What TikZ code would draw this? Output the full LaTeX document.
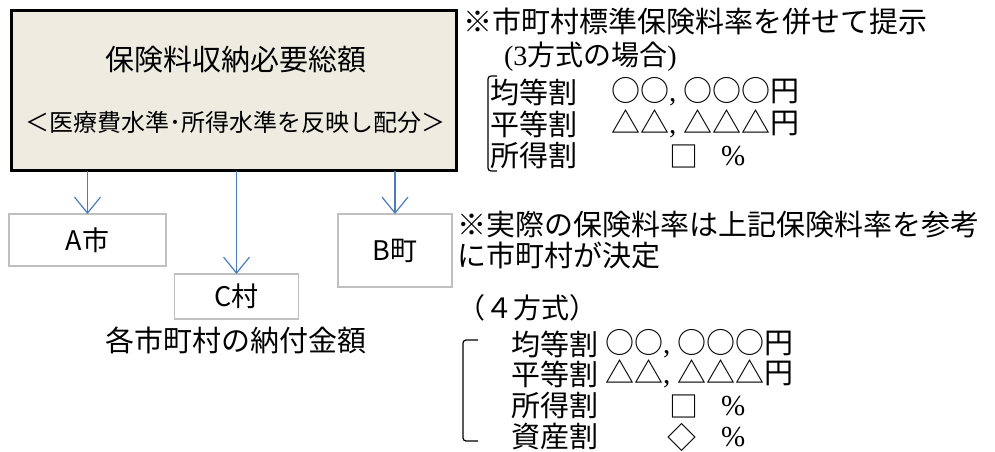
\documentclass[tikz,border=0pt]{standalone}
\usepackage{fontspec}
\usetikzlibrary{arrows.meta}
\newfontfamily\jp{Noto Sans CJK JP}
\newfontfamily\ser{Liberation Serif}
\definecolor{boxfill}{HTML}{EEECE1}
\definecolor{arrowblue}{HTML}{4A7EBB}
\definecolor{boxgray}{HTML}{BFBFBF}
\tikzset{
  mainbox/.style={draw=black, line width=3pt, fill=boxfill, minimum width=445pt, minimum height=160pt},
  citybox/.style={draw=boxgray, line width=1.5pt, fill=white, font=\fontsize{27}{27}\selectfont\jp},
  arr/.style={draw=arrowblue, line width=1.2pt, -{Straight Barb[length=16pt,width=26pt]}},
  brk/.style={draw=black, line width=1.2pt, rounded corners=3pt},
  big/.style={font=\fontsize{29}{29}\selectfont\jp},
  lst/.style={font=\fontsize{29}{29}\selectfont\jp, anchor=west},
  sml/.style={font=\fontsize{28}{28}\selectfont\jp, anchor=west}
}
\begin{document}
\begin{tikzpicture}[x=1pt, y=-1pt, every node/.style={inner sep=0pt, outer sep=0pt}]
\useasboundingbox (0,0) rectangle (995,452);
% main box
\node[mainbox] (main) at (234,90.5) {};
\node[big] (title) at (236,60) {保険料収納必要総額};
\node[font=\fontsize{24}{24}\selectfont\jp] (sub) at (235,122) {＜医療費水準･所得水準を反映し配分＞};
% municipalities
\node[citybox, minimum width=157pt, minimum height=52pt] (A) at (87.5,240) {A市};
\node[citybox, minimum width=124pt, minimum height=45pt] (C) at (236.5,296.5) {C村};
\node[citybox, minimum width=114pt, minimum height=73pt] (B) at (395,250.5) {B町};
\draw[arr] (A.north |- main.south) -- (A.north);
\draw[arr] (C.north |- main.south) -- (C.north);
\draw[arr] (B.north |- main.south) -- (B.north);
\node[big] (sum) at (236,340) {各市町村の納付金額};
% top note
\node[big, anchor=west] (n1) at (463,22) {※市町村標準保険料率を併せて提示};
\node[sml] (n1s) at (504,57) {{\ser(3}方式の場合{\ser)}};
\draw[brk] (497,76) -- (488,76) -- (488,171) -- (497,171);
\node[lst] (k1) at (490,92) {均等割};
\node[lst] (k1v) at (611,92) {○○{\ser, }○○○円};
\node[lst] (h1) at (490,124) {平等割};
\node[lst] (h1v) at (611,124) {△△{\ser, }△△△円};
\node[lst] (s1) at (490,156) {所得割};
\node[lst] (s1v) at (669,156) {□};
\node[lst] (s1p) at (721,156) {\ser\%};
% bottom note
\node[big, anchor=west] (n2) at (457,225) {※実際の保険料率は上記保険料率を参考};
\node[big, anchor=west] (n2b) at (457,255) {に市町村が決定};
\node[sml] (n2s) at (457,308) {（４方式）};
\draw[brk] (478,340) -- (463,340) -- (463,441) -- (478,441);
\node[lst] (k2) at (511,344) {均等割};
\node[lst] (k2v) at (605,344) {○○{\ser, }○○○円};
\node[lst] (h2) at (511,374) {平等割};
\node[lst] (h2v) at (605,374) {△△{\ser, }△△△円};
\node[lst] (s2) at (511,406) {所得割};
\node[lst] (s2v) at (669,406) {□};
\node[lst] (s2p) at (721,406) {\ser\%};
\node[lst] (z2) at (511,437) {資産割};
\node[lst] (z2v) at (667,437) {◇};
\node[lst] (z2p) at (721,437) {\ser\%};
\end{tikzpicture}
\end{document}
